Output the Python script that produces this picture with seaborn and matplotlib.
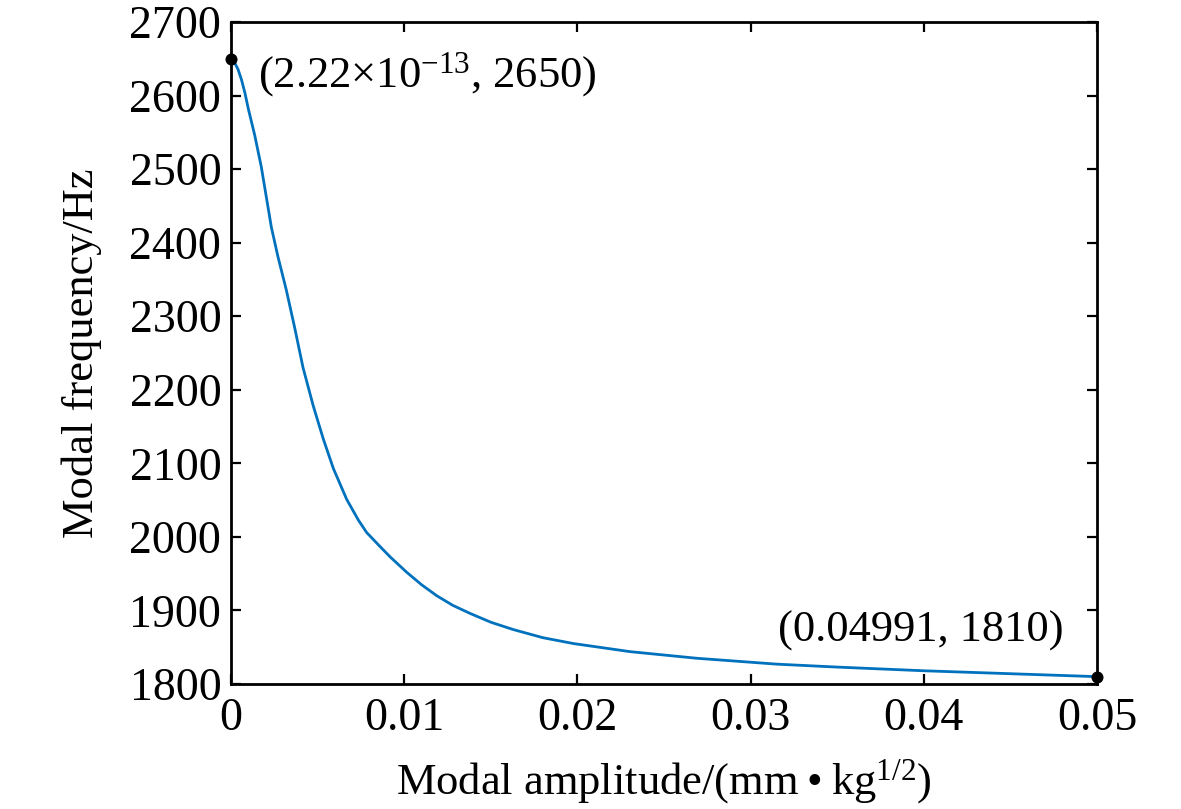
import numpy as np
import pandas as pd
import matplotlib
matplotlib.use("Agg")
import matplotlib.pyplot as plt
import seaborn as sns

# curve
amplitude = [0.0, 0.0002, 0.0004, 0.0006, 0.0008, 0.0010, 0.00137, 0.00175, 0.00204,
             0.00233, 0.00271, 0.00319, 0.00368, 0.00416, 0.00475, 0.00533, 0.00591,
             0.00668, 0.00735, 0.00783, 0.0086, 0.00918, 0.01014, 0.0110, 0.01188,
             0.0128, 0.0138, 0.0150, 0.0163, 0.0180, 0.01977, 0.02304, 0.02689,
             0.03151, 0.0350, 0.0400, 0.0450, 0.0500]
frequency = [2650, 2645, 2636, 2622, 2604, 2582, 2546, 2503, 2462,
             2421, 2381, 2336, 2284, 2230, 2178, 2133, 2093,
             2051, 2023, 2006, 1987, 1973, 1952, 1935, 1920,
             1907, 1896, 1884, 1874, 1863, 1855, 1844, 1835,
             1827, 1823, 1818, 1814, 1810]

end_x = [0.0, 0.05]
end_y = [2650, 1810]
note_start = r"(2.22×10$^{-13}$, 2650)"
note_end = "(0.04991, 1810)"

xticks = [0, 0.01, 0.02, 0.03, 0.04, 0.05]
xtick_labels = ["0", "0.01", "0.02", "0.03", "0.04", "0.05"]
yticks = list(range(1800, 2701, 100))

sns.set_theme(style="ticks")
plt.rcParams["font.family"] = ["Liberation Serif", "DejaVu Serif"]
plt.rcParams["mathtext.fontset"] = "custom"
plt.rcParams["mathtext.rm"] = "Liberation Serif"
plt.rcParams["mathtext.it"] = "Liberation Serif:italic"
plt.rcParams["text.color"] = "black"
plt.rcParams["axes.labelcolor"] = "black"

df = pd.DataFrame({"amp": amplitude, "freq": frequency})
ends = pd.DataFrame({"amp": end_x, "freq": end_y})

fig = plt.figure(figsize=(11.81, 8.09), dpi=100)
ax = fig.add_axes([0.1956, 0.1545, 0.7333, 0.8183])

sns.lineplot(data=df, x="amp", y="freq", ax=ax, color="#0072BD", linewidth=2.0,
             sort=False, estimator=None, solid_joinstyle="round")
sns.scatterplot(data=ends, x="amp", y="freq", ax=ax, color="black", s=75,
                edgecolor="black", linewidth=0, zorder=5, clip_on=False)

ax.set_xlim(0, 0.05)
ax.set_ylim(1800, 2700)
ax.set_xticks(xticks)
ax.set_xticklabels(xtick_labels)
ax.set_yticks(yticks)

ax.tick_params(direction="in", top=True, right=True, length=7, width=1.6,
               labelsize=33, colors="black")
ax.tick_params(axis="x", pad=10)
ax.tick_params(axis="y", pad=7)
for sp in ax.spines.values():
    sp.set_linewidth(2)
    sp.set_color("black")

fs = 32
ax.set_xlabel("Modal amplitude/(mm\u2009\u2022\u2009kg$^{1/2}$)", fontsize=fs, labelpad=12)
ax.set_ylabel("Modal frequency/Hz", fontsize=fs, labelpad=20)

ax.text(0.00156, 2628, note_start, fontsize=fs, ha="left", va="center")
ax.text(0.0481, 1873, note_end, fontsize=fs, ha="right", va="center")

fig.savefig("out.png", dpi=100)
